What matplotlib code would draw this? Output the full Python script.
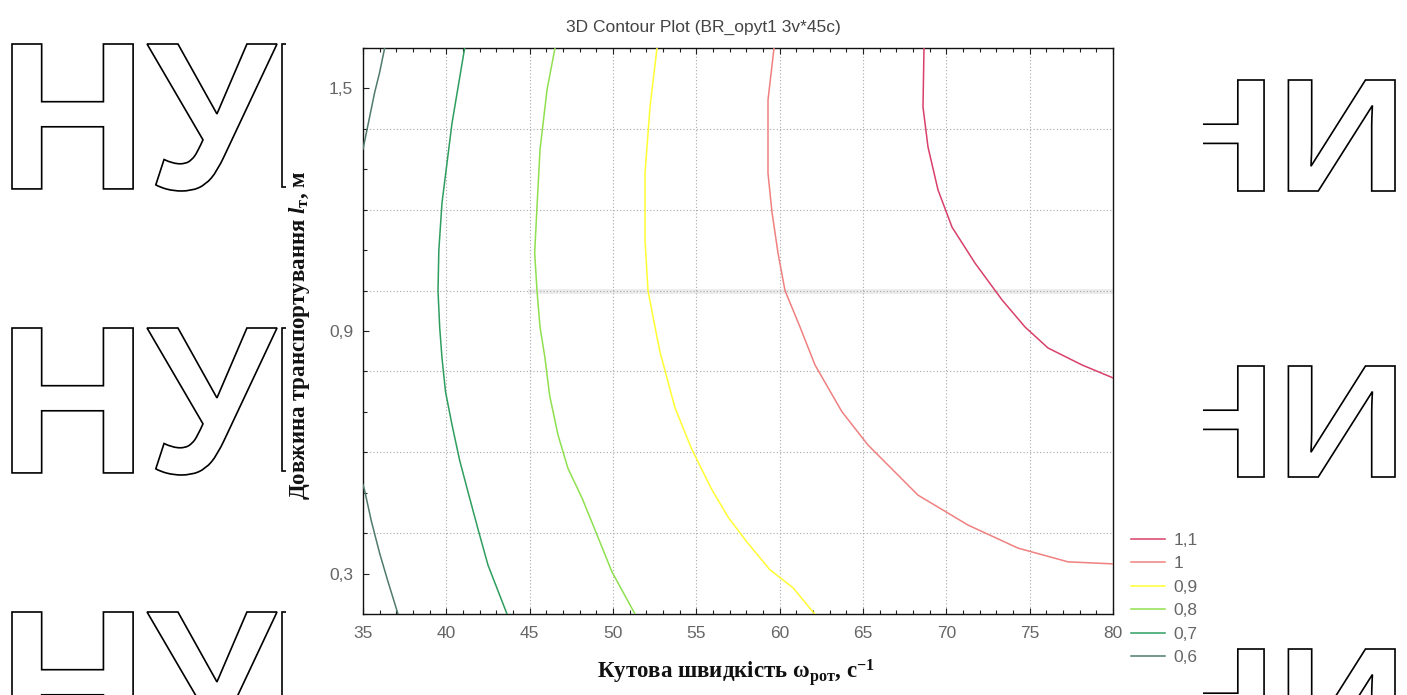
import matplotlib
matplotlib.use("Agg")
import matplotlib.pyplot as plt
from matplotlib.textpath import TextPath
from matplotlib.font_manager import FontProperties
from matplotlib.patches import PathPatch, Rectangle
from matplotlib.transforms import Affine2D, IdentityTransform
from matplotlib.ticker import MultipleLocator, FixedLocator

plt.rcParams["mathtext.fontset"] = "custom"
plt.rcParams["mathtext.rm"] = "Liberation Serif:bold"
plt.rcParams["mathtext.it"] = "Liberation Serif:italic:bold"
plt.rcParams["mathtext.bf"] = "Liberation Serif:bold"

# -------------------------------------------------
# Contour lines of the fitted surface, one pair of arrays per level
# -------------------------------------------------
levels = [1.1, 1.0, 0.9, 0.8, 0.7, 0.6]
level_labels = ["1,1", "1", "0,9", "0,8", "0,7", "0,6"]
level_colors = ["#d8406a", "#f08080", "#ffff33", "#8fe04f", "#2e9e5e", "#4f7a6c"]

lvl_11_x = [68.66, 68.6, 68.9, 69.5, 70.34, 71.72, 73.34, 74.72, 76.1, 78.14, 80.0]
lvl_11_y = [1.6, 1.454, 1.355, 1.249, 1.157, 1.068, 0.977, 0.91, 0.858, 0.816, 0.784]

lvl_10_x = [59.66, 59.3, 59.3, 59.54, 59.9, 60.32, 61.22, 62.12, 63.74, 65.3, 68.3, 71.3, 74.3, 77.3, 80.0]
lvl_10_y = [1.6, 1.471, 1.29, 1.194, 1.093, 1.0, 0.91, 0.816, 0.7, 0.618, 0.494, 0.42, 0.363, 0.329, 0.324]

lvl_09_x = [52.64, 52.22, 51.92, 51.92, 52.1, 52.52, 52.82, 53.72, 54.7, 55.9, 56.9, 58.0, 59.4, 60.8, 62.1]
lvl_09_y = [1.6, 1.454, 1.29, 1.125, 1.0, 0.91, 0.848, 0.71, 0.61, 0.51, 0.44, 0.38, 0.31, 0.265, 0.2]

lvl_08_x = [46.52, 46.04, 45.62, 45.44, 45.3, 45.44, 45.62, 45.92, 46.2, 46.7, 47.3, 48.14, 49.0, 49.94, 51.32]
lvl_08_y = [1.6, 1.496, 1.348, 1.207, 1.093, 1.0, 0.91, 0.833, 0.74, 0.643, 0.56, 0.487, 0.4, 0.304, 0.2]

lvl_07_x = [41.1, 40.34, 39.74, 39.55, 39.5, 39.6, 39.74, 39.95, 40.34, 40.8, 41.3, 41.9, 42.5, 43.64]
lvl_07_y = [1.6, 1.414, 1.217, 1.1, 1.0, 0.91, 0.833, 0.75, 0.668, 0.58, 0.502, 0.41, 0.321, 0.2]

# level 0.6 only cuts the two left corners
lvl_06a_x = [36.3, 36.0, 35.7, 35.4, 35.1, 35.0]
lvl_06a_y = [1.6, 1.54, 1.49, 1.43, 1.37, 1.35]
lvl_06b_x = [35.0, 35.1, 35.5, 36.0, 36.5, 37.1]
lvl_06b_y = [0.52, 0.505, 0.43, 0.35, 0.28, 0.2]

segments = {
    1.1: [(lvl_11_x, lvl_11_y)],
    1.0: [(lvl_10_x, lvl_10_y)],
    0.9: [(lvl_09_x, lvl_09_y)],
    0.8: [(lvl_08_x, lvl_08_y)],
    0.7: [(lvl_07_x, lvl_07_y)],
    0.6: [(lvl_06a_x, lvl_06a_y), (lvl_06b_x, lvl_06b_y)],
}

x_ticks = [35, 40, 45, 50, 55, 60, 65, 70, 75, 80]
y_ticks = [0.3, 0.9, 1.5]
y_tick_labels = ["0,3", "0,9", "1,5"]
x_grid = [40, 45, 50, 55, 60, 65, 70, 75]
y_grid = [0.4, 0.6, 0.8, 1.0, 1.2, 1.4]

W, H = 1407, 695
fig = plt.figure(figsize=(W / 100, H / 100), dpi=100)
fig.patch.set_facecolor("white")


def outline_word(word, x0, x1, top, bottom):
    """Hollow block letters placed in a pixel box (top/bottom from image top)."""
    tp = TextPath((0, 0), word, size=100,
                  prop=FontProperties(family="Liberation Sans", weight="bold"))
    ext = tp.get_extents()
    tr = (Affine2D()
          .translate(-ext.x0, -ext.y0)
          .scale((x1 - x0) / ext.width, (bottom - top) / ext.height)
          .translate(x0, H - bottom))
    patch = PathPatch(tr.transform_path(tp), facecolor="white", edgecolor="black",
                      lw=1.2, transform=IdentityTransform(), zorder=-3)
    fig.add_artist(patch)


# background lettering on both margins
for top in (44, 328, 612):
    outline_word("НУ", 12, 277, top, top + 147)
    outline_word("І", 282, 316, top, top + 143)
for top in (80, 366, 649):
    outline_word("НИ", 1157, 1395, top, top + 111)

# white panel behind the chart
fig.add_artist(Rectangle((286, 0), 1203 - 286, H, facecolor="white", edgecolor="none",
                         transform=IdentityTransform(), zorder=-1))

ax = fig.add_axes([363 / W, (H - 614) / H, 750 / W, 566 / H])
ax.set_facecolor("white")

for gx in x_grid:
    ax.axvline(gx, color="#a8a8a8", lw=0.8, ls=(0, (1, 2)), zorder=1)
for gy in y_grid:
    ax.axhline(gy, color="#a8a8a8", lw=0.8, ls=(0, (1, 2)), zorder=1)
# faint band along the 1.0 grid line
ax.axhline(1.0, xmin=(45 - 35) / 45, color="#ececec", lw=3.5, zorder=0.5)

handles = []
for lev, col, lab in zip(levels, level_colors, level_labels):
    for sx, sy in segments[lev]:
        line, = ax.plot(sx, sy, color=col, lw=1.1, zorder=3)
    line.set_label(lab)
    handles.append(line)

ax.set_xlim(35, 80)
ax.set_ylim(0.2, 1.6)
ax.xaxis.set_major_locator(FixedLocator(x_ticks))
ax.xaxis.set_minor_locator(MultipleLocator(1))
ax.set_yticks(y_ticks)
ax.set_yticklabels(y_tick_labels)
ax.yaxis.set_minor_locator(MultipleLocator(0.1))
ax.tick_params(which="both", direction="in", top=True, right=False, width=0.8,
               colors="#222222", labelcolor="#666666", labelsize=12.5)
ax.tick_params(which="major", length=4)
ax.tick_params(which="minor", length=3)
ax.tick_params(axis="x", pad=9)
ax.tick_params(axis="y", pad=7)
for lbl in ax.get_xticklabels() + ax.get_yticklabels():
    lbl.set_fontfamily("Liberation Sans")
for sp in ax.spines.values():
    sp.set_color("#111111")
    sp.set_linewidth(1.0)

fig.text(0.5, 1 - 27 / H, "3D Contour Plot (BR_opyt1 3v*45c)", ha="center", va="center",
         fontsize=12.5, color="#444444", family="Liberation Sans")
fig.text(736 / W, 1 - 672 / H, "Кутова швидкість ω$_{\\mathrm{рот}}$, с$^{-1}$",
         ha="center", va="center", fontsize=16.5, fontweight="bold",
         family="Liberation Serif", color="#111111")
fig.text(300 / W, 1 - 335 / H, "Довжина транспортування $\\mathit{l}_{\\mathrm{т}}$, м",
         ha="center", va="center", rotation=90, fontsize=16.5, fontweight="bold",
         family="Liberation Serif", color="#111111")

leg = ax.legend(handles=handles, loc="upper left", bbox_to_anchor=(1122 / W, 1 - 524 / H),
                bbox_transform=fig.transFigure, frameon=False, fontsize=12.5,
                handlelength=2.0, handletextpad=0.45, labelspacing=0.48, borderpad=0)
for t in leg.get_texts():
    t.set_color("#666666")
    t.set_fontfamily("Liberation Sans")

fig.savefig("out.png", dpi=100, facecolor="white")
